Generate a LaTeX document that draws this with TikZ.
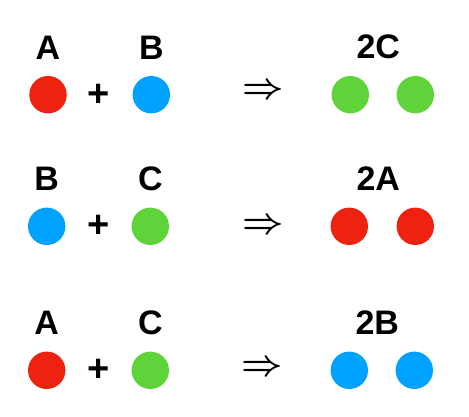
\documentclass[tikz,border=0pt]{standalone}
\usepackage{fontspec}
\setsansfont{Liberation Sans}
\usepackage{amsmath}
\usetikzlibrary{positioning, calc}
\definecolor{speciesred}{HTML}{EE2211}
\definecolor{speciesblue}{HTML}{00A2FF}
\definecolor{speciesgreen}{HTML}{5FD43A}

\begin{document}
\begin{tikzpicture}[x=1pt, y=-1pt,
    ball/.style={circle, minimum size=37.4pt, inner sep=0pt},
    name tag/.style={inner sep=0pt, font=\sffamily\bfseries\fontsize{34}{34}\selectfont},
    plus sign/.style={inner sep=0pt, font=\sffamily\bfseries\fontsize{38}{38}\selectfont},
    yields/.style={inner sep=0pt}]

    \useasboundingbox (0,0) rectangle (469,417);

    % A + B => 2C
    \node (a1) [ball, fill=speciesred] at (48,94.7) {};
    \node (b1) [ball, fill=speciesblue] at (151.3,94.7) {};
    \node (p1) [plus sign] at (98.5,95) {+};
    \node (y1) [yields] at (263,91.5) {\scalebox{3.6}{$\boldsymbol{\Rightarrow}$}};
    \node (c1l) [ball, fill=speciesgreen] at (350.3,94.7) {};
    \node (c1r) [ball, fill=speciesgreen] at (415.3,94.7) {};
    \node (ta1) [name tag, above=16.5pt of a1] {A};
    \node (tb1) [name tag, above=16.5pt of b1] {B};
    \node (tc1) [name tag, above=16.5pt of c1l, xshift=28pt] {2C};

    % B + C => 2A
    \node (b2) [ball, fill=speciesblue] at (46.7,226.3) {};
    \node (c2) [ball, fill=speciesgreen] at (150.3,226.3) {};
    \node (p2) [plus sign] at (98.3,226.7) {+};
    \node (y2) [yields] at (263,226.5) {\scalebox{3.6}{$\boldsymbol{\Rightarrow}$}};
    \node (a2l) [ball, fill=speciesred] at (349.3,226.3) {};
    \node (a2r) [ball, fill=speciesred] at (415.3,226.3) {};
    \node (tb2) [name tag, above=16.5pt of b2] {B};
    \node (tc2) [name tag, above=16.5pt of c2] {C};
    \node (ta2) [name tag, above=16.5pt of a2l, xshift=29pt] {2A};

    % A + C => 2B
    \node (b3l) [ball, fill=speciesblue] at (349.3,370.3) {};
    \node (b3r) [ball, fill=speciesblue] at (414.3,370.3) {};
    \node (a3) [ball, fill=speciesred] at (46.7,370.3) {};
    \node (c3) [ball, fill=speciesgreen] at (150.3,370.3) {};
    \node (p3) [plus sign] at (98.3,370.8) {+};
    \node (y3) [yields] at (262,368) {\scalebox{3.6}{$\boldsymbol{\Rightarrow}$}};
    \node (ta3) [name tag, above=16.5pt of a3] {A};
    \node (tc3) [name tag, above=16.5pt of c3] {C};
    \node (tb3) [name tag, above=16.5pt of b3l, xshift=28pt] {2B};
\end{tikzpicture}
\end{document}
